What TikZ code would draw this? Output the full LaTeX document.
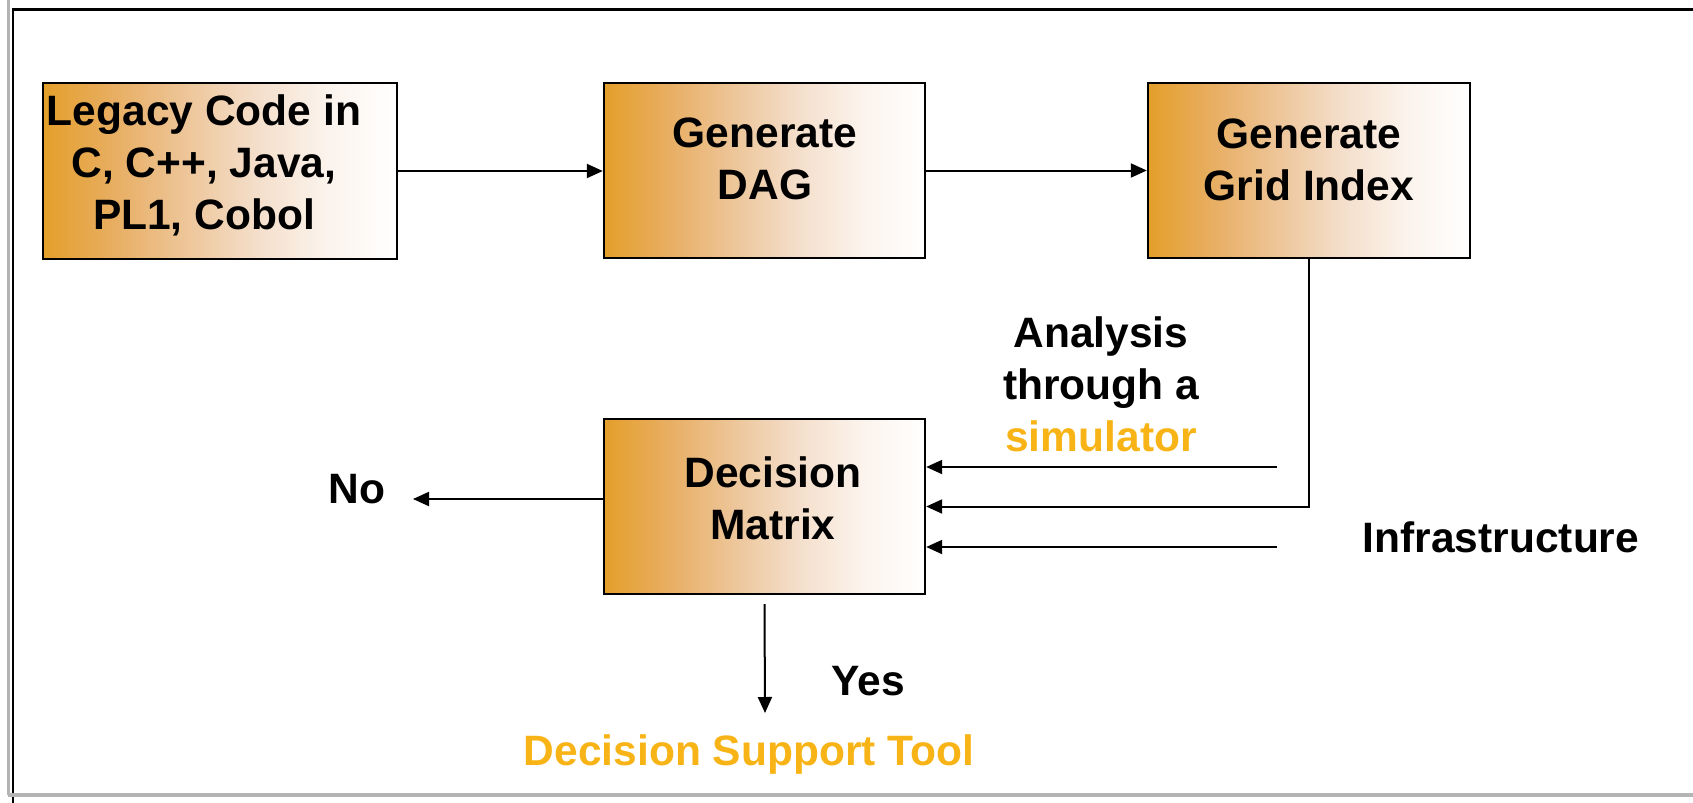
\documentclass[tikz,border=0pt]{standalone}
\usepackage{fontspec}
\setmainfont{Liberation Sans}
\usetikzlibrary{arrows.meta,fit}

% orange-to-white fill of the process boxes
\definecolor{fadeA}{RGB}{228,159,42}
\definecolor{fadeB}{RGB}{232,174,98}
\definecolor{fadeC}{RGB}{237,197,152}
\definecolor{fadeD}{RGB}{244,222,202}
\definecolor{fadeE}{RGB}{251,243,236}
\definecolor{hilite}{RGB}{248,180,22}
\definecolor{rulegrey}{RGB}{180,180,180}
\pgfdeclarehorizontalshading{boxfade}{100bp}{color(0bp)=(fadeA); color(25bp)=(fadeA); color(35bp)=(fadeB); color(45bp)=(fadeC); color(55bp)=(fadeD); color(65bp)=(fadeE); color(75bp)=(white); color(100bp)=(white)}

\begin{document}
\begin{tikzpicture}[x=0.5pt,y=-0.5pt,
  every node/.style={font=\bfseries\fontsize{21.25}{26}\selectfont, inner sep=0pt},
  box/.style={draw=black, line width=1.2pt, shade, shading=boxfade, rectangle, inner sep=0pt},
  lbl/.style={align=center, anchor=north},
  word/.style={anchor=base},
  arr/.style={line width=1pt, -{Triangle[length=8pt,width=7pt]}}]

\useasboundingbox (0,0) rectangle (1693,803);

% slide frame
\draw[rulegrey, line width=1.4pt] (8.7,0) -- (8.7,795);
\draw[black, line width=1pt] (13,9.5) -- (13,803);
\draw[black, line width=1.2pt] (12,9.5) -- (1693,9.5);
\draw[rulegrey, line width=2.3pt] (8,795) -- (1693,795);

% process boxes
\node[box, fit={(43,83) (397,259)}] (legacy) {};
\node[box, fit={(604,83) (925,258)}] (dag) {};
\node[box, fit={(1148,83) (1470,258)}] (grid) {};
\node[box, fit={(604,419) (925,594)}] (dm) {};

% box captions
\node[lbl] (legacyTxt) at (204,94) {Legacy Code in\\C, C++, Java,\\PL1, Cobol};
\node[lbl] (dagTxt) at (765,117) {Generate\\DAG};
\node[lbl] (gridTxt) at (1309,118) {Generate\\Grid Index};
\node[lbl] (dmTxt) at (773,456) {Decision\\Matrix};

% free labels
\node[lbl] (simTxt) at (1101,316) {Analysis\\through a\\\textcolor{hilite}{simulator}};
\node[word] (no) at (357,503) {No};
\node[word] (yes) at (868,695) {Yes};
\node[word, text=hilite] (dst) at (749,765) {Decision Support Tool};
\node[word] (infra) at (1501,552) {Infrastructure};

% loose connector ends
\coordinate (simEnd) at (1277,467);
\coordinate (infraEnd) at (1277,547);
\coordinate (noEnd) at (413,499);
\coordinate (yesEnd) at (765,713);

% connectors
\draw[arr] (legacy.east) -- (legacy.east -| dag.west);
\draw[arr] (dag.east) -- (dag.east -| grid.west);
\draw[arr] (grid.south) |- (dm.east);
\draw[arr] (simEnd) -- (simEnd -| dm.east);
\draw[arr] (infraEnd) -- (infraEnd -| dm.east);
\draw[arr] (noEnd -| dm.west) -- (noEnd);
\draw[arr] ([yshift=-4.5pt]dm.south) -- (yesEnd);
\end{tikzpicture}
\end{document}
